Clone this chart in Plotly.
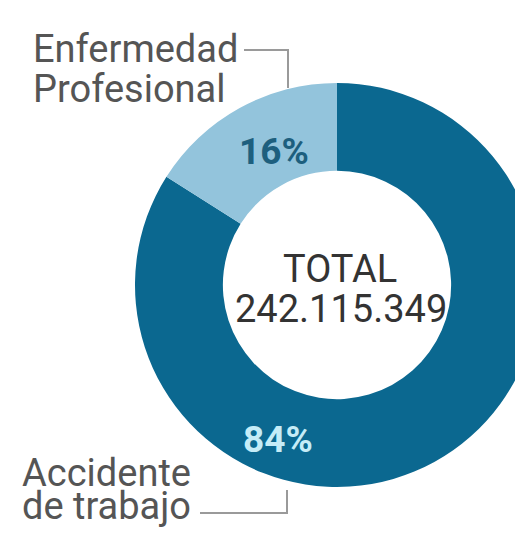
import plotly.graph_objects as go

categories = ["Accidente de trabajo", "Enfermedad Profesional"]
shares = [84, 16]
pct_labels = ["84%", "16%"]
total_label = "242.115.349"
colors = ["#0b6890", "#93c4dc"]

W, H = 560, 540
OFF = 8  # page body margin offset

def px(x):
    return (x - OFF) / W

def py(y):
    return 1 - (y - OFF) / H

fig = go.Figure()
fig.add_trace(go.Pie(
    labels=categories,
    values=shares,
    hole=0.565,
    sort=False,
    direction="clockwise",
    rotation=0,
    marker=dict(colors=colors, line=dict(width=0)),
    textinfo="none",
    hoverinfo="label+percent",
    showlegend=False,
    domain=dict(x=[px(135), px(539)], y=[py(487), py(83)]),
))

ann = []
def add(text, x, y, size, color, xanchor="left", bold=False):
    ann.append(dict(
        text=f"<b>{text}</b>" if bold else text,
        x=px(x), y=py(y), xref="paper", yref="paper",
        xanchor=xanchor, yanchor="middle", showarrow=False,
        font=dict(family="Roboto", size=size, color=color),
    ))

add("Enfermedad", 31, 49, 38, "#555555")
add("Profesional", 31, 89, 38, "#555555")
add("Accidente", 20, 473, 38, "#555555")
add("de trabajo", 20, 506, 38, "#555555")
add("TOTAL", 340, 269, 38, "#333333", xanchor="center")
add(total_label, 341, 309, 38, "#333333", xanchor="center")
add(pct_labels[1], 274, 152, 37, "#1d5f7e", xanchor="center", bold=True)
add(pct_labels[0], 278, 439, 37, "#c5ecf7", xanchor="center", bold=True)

line_style = dict(color="#9a9a9a", width=2)
shapes = [
    dict(type="line", xref="paper", yref="paper", x0=px(244), x1=px(289), y0=py(50), y1=py(50), line=line_style),
    dict(type="line", xref="paper", yref="paper", x0=px(288), x1=px(288), y0=py(50), y1=py(88), line=line_style),
    dict(type="line", xref="paper", yref="paper", x0=px(200), x1=px(288), y0=py(513), y1=py(513), line=line_style),
    dict(type="line", xref="paper", yref="paper", x0=px(287), x1=px(287), y0=py(513), y1=py(490), line=line_style),
]

fig.update_layout(
    width=W, height=H,
    margin=dict(l=0, r=0, t=0, b=0),
    paper_bgcolor="white", plot_bgcolor="white",
    annotations=ann, shapes=shapes,
    font=dict(family="Roboto"),
)

fig.write_html("out.html")
